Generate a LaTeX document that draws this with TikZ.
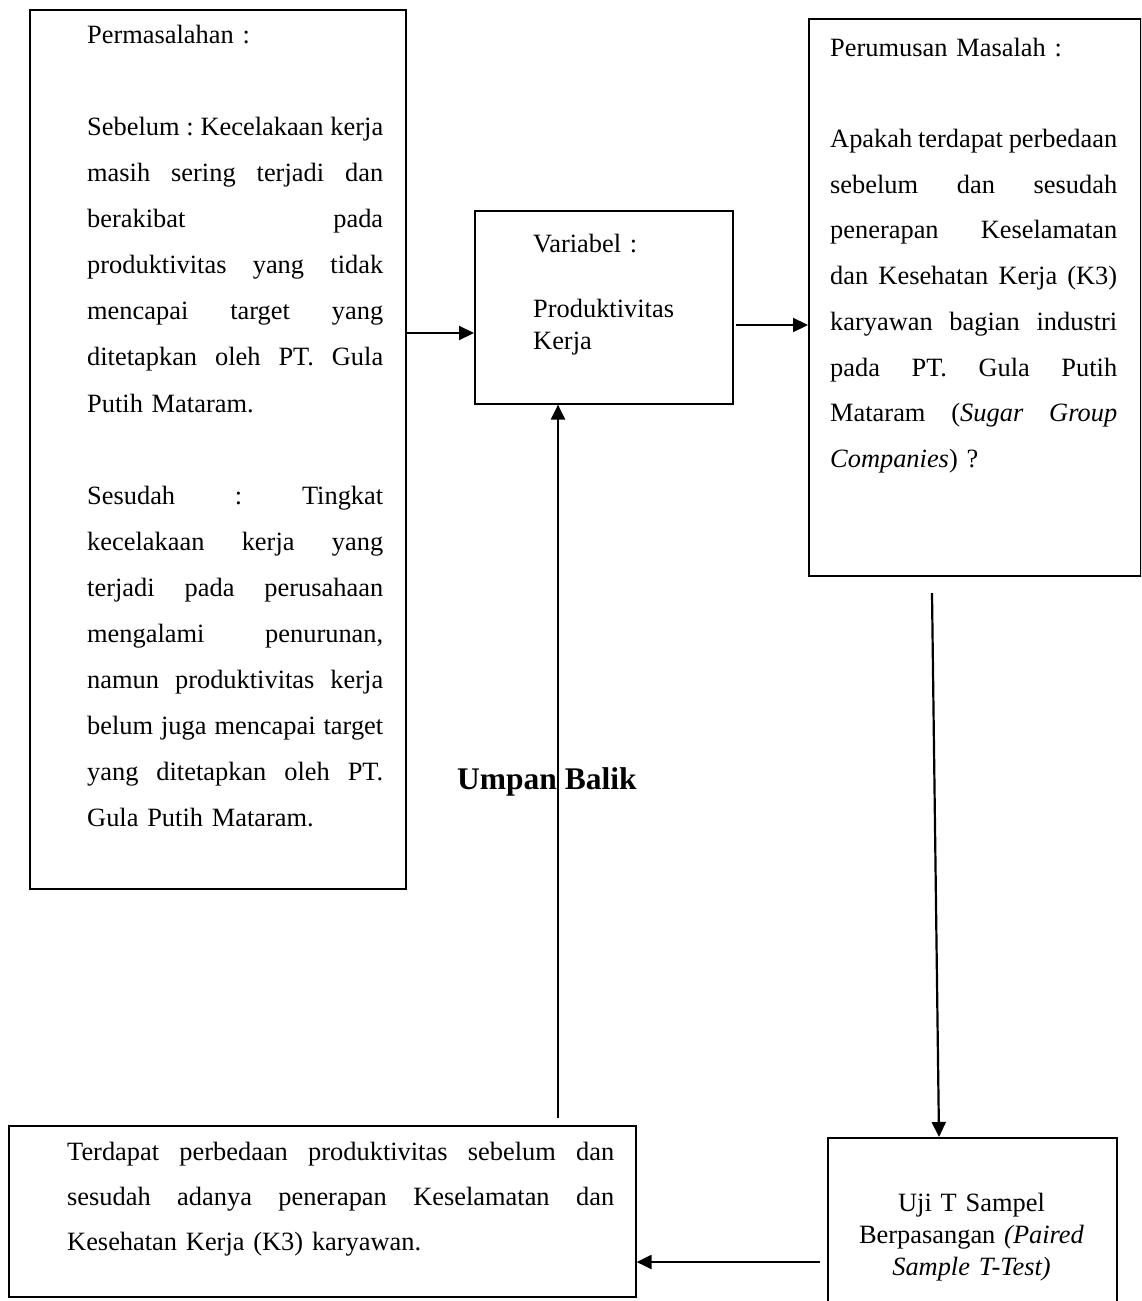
\documentclass[tikz,border=0pt]{standalone}
\usepackage{fontspec}
\setmainfont{Liberation Serif}
\usetikzlibrary{arrows.meta}
\newlength\jw
\newcommand\JL[1]{\makebox[\jw][s]{\spaceskip=.25em plus 1fil minus .1em\strut #1}}
\frenchspacing
\begin{document}
\begin{tikzpicture}[x=1pt,y=-1pt,
  box/.style={draw, line width=1.6pt, inner sep=0pt, anchor=north west},
  txt/.style={inner sep=0pt, anchor=north west, align=left},
  conn/.style={line width=2.2pt, -{Triangle[length=15pt,width=14pt]}},
  big/.style={font=\fontsize{26.4}{#1}\selectfont\frenchspacing}]
\useasboundingbox (0,0) rectangle (1141,1301);
\clip (0,0) rectangle (1141,1301);
% boxes
\node[box, minimum width=376pt, minimum height=879pt] (perm) at (29,9) {};
\node[box, minimum width=258pt, minimum height=193pt] (var) at (474,210) {};
\node[box, minimum width=332pt, minimum height=557pt] (rum) at (808,18) {};
\node[box, minimum width=627pt, minimum height=171pt] (res) at (8,1125) {};
\node[box, minimum width=289pt, minimum height=190pt] (uji) at (827,1137) {};
% texts
\node[txt, big=46.1, text width=300pt] (permtxt) at (87,10.73) {%
\setlength\jw{296pt}\strut Permasalahan :\\
\strut\\
\JL{Sebelum : Kecelakaan kerja}\\
\JL{masih sering terjadi dan}\\
\JL{berakibat pada}\\
\JL{produktivitas yang tidak}\\
\JL{mencapai target yang}\\
\JL{ditetapkan oleh PT. Gula}\\
\strut Putih Mataram.\\
\strut\\
\JL{Sesudah : Tingkat}\\
\JL{kecelakaan kerja yang}\\
\JL{terjadi pada perusahaan}\\
\JL{mengalami penurunan,}\\
\JL{namun produktivitas kerja}\\
\JL{belum juga mencapai target}\\
\JL{yang ditetapkan oleh PT.}\\
\strut Gula Putih Mataram.};
\node[txt, big=32.5, text width=190pt] (vartxt) at (533,229.25) {%
\strut Variabel :\\
\strut\\
\strut Produktivitas\\
\strut Kerja};
\node[txt, big=45.7, text width=292pt] (rumtxt) at (830,24) {%
\setlength\jw{287pt}\strut Perumusan Masalah :\\
\strut\\
\JL{Apakah terdapat perbedaan}\\
\JL{sebelum dan sesudah}\\
\JL{penerapan Keselamatan}\\
\JL{dan Kesehatan Kerja (K3)}\\
\JL{karyawan bagian industri}\\
\JL{pada PT. Gula Putih}\\
\JL{Mataram (\textit{Sugar Group}}\\
\strut\textit{Companies}) ?};
\node[txt, big=45, text width=552pt] (restxt) at (67,1128.5) {%
\setlength\jw{547pt}\JL{Terdapat perbedaan produktivitas sebelum dan}\\
\JL{sesudah adanya penerapan Keselamatan dan}\\
\strut Kesehatan Kerja (K3) karyawan.};
\node[inner sep=0pt, anchor=north, align=center, big=32, text width=289pt] (ujitxt) at (971.5,1188.6) {%
\strut Uji T Sampel\\
\strut Berpasangan \textit{(Paired}\\
\strut\textit{Sample T-Test)}};
\node[inner sep=0pt, anchor=base west, font=\bfseries\fontsize{31.5}{36}\selectfont] (umpan) at (457,789) {Umpan Balik};
% connectors
\coordinate (rumdown) at (932,593);
\draw[conn] (perm.east |- 0,333) -- (var.west |- 0,333);
\draw[conn, shorten <=2pt] (var.east |- 0,325) -- (rum.west |- 0,325);
\draw[conn] (rumdown) -- (939,0 |- uji.north);
\draw[conn, shorten <=7pt] (uji.west |- 0,1262) -- (res.east |- 0,1262);
\draw[conn, shorten <=7pt] (558,0 |- res.north) -- (558,0 |- var.south);
\end{tikzpicture}
\end{document}
